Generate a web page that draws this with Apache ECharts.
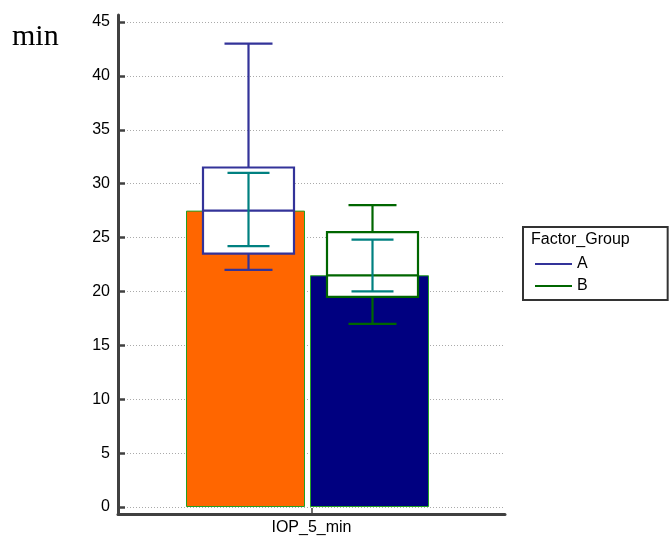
<!DOCTYPE html>
<html><head><meta charset="utf-8">
<script src="https://cdn.jsdelivr.net/npm/echarts@6/dist/echarts.min.js"></script>
<style>html,body{margin:0;padding:0;background:#fff}#c{width:669px;height:538px}</style>
</head><body><div id="c"></div>
<script>
// ---- data ----
const categories = ['IOP_5_min'];
const groups = ['A', 'B'];
const barMeans = [27.5, 21.5];
const boxLow = [22, 17];
const boxQ1 = [23.5, 19.5];
const boxMedian = [27.5, 21.5];
const boxQ3 = [31.5, 25.5];
const boxHigh = [43, 28];
const errLow = [24.2, 20];
const errHigh = [31, 24.8];
const yTicks = [0, 5, 10, 15, 20, 25, 30, 35, 40, 45];
const yUnit = 'min';
const legendTitle = 'Factor_Group';

// ---- styles ----
const barColors = ['#FF6600', '#000080'];
const boxColors = ['#333399', '#006600'];
const errColor = '#008080';
const BAR_W = 119, GAP = 5, SHIFT = -1;
const FONT = 'Liberation Sans, Arial, sans-serif';

const chart = echarts.init(document.getElementById('c'), null, {renderer: 'canvas'});

function boxRender(gi) {
  return function (params, api) {
    const off = (gi - 0.5) * (BAR_W + GAP) + SHIFT;
    const x0 = api.coord([api.value(0), 0])[0] + off;
    const y = k => api.coord([api.value(0), api.value(k)])[1];
    const hw = 45.5, cw = 24;
    const st = {stroke: boxColors[gi], lineWidth: 2.2, fill: null};
    return {
      type: 'group',
      children: [
        {type: 'line', shape: {x1: x0, y1: y(5), x2: x0, y2: y(4)}, style: st},
        {type: 'line', shape: {x1: x0 - cw, y1: y(5), x2: x0 + cw, y2: y(5)}, style: st},
        {type: 'line', shape: {x1: x0, y1: y(2), x2: x0, y2: y(1)}, style: st},
        {type: 'line', shape: {x1: x0 - cw, y1: y(1), x2: x0 + cw, y2: y(1)}, style: st},
        {type: 'rect', shape: {x: x0 - hw, y: y(4), width: 2 * hw, height: y(2) - y(4)},
          style: {stroke: boxColors[gi], lineWidth: 2.2, fill: '#fff'}},
        {type: 'line', shape: {x1: x0 - hw, y1: y(3), x2: x0 + hw, y2: y(3)}, style: st}
      ]
    };
  };
}
function errRender(gi) {
  return function (params, api) {
    const off = (gi - 0.5) * (BAR_W + GAP) + SHIFT;
    const x0 = api.coord([api.value(0), 0])[0] + off;
    const y = k => api.coord([api.value(0), api.value(k)])[1];
    const cw = 21;
    const st = {stroke: errColor, lineWidth: 2.2, fill: null};
    return {
      type: 'group',
      children: [
        {type: 'line', shape: {x1: x0, y1: y(2), x2: x0, y2: y(1)}, style: st},
        {type: 'line', shape: {x1: x0 - cw, y1: y(2), x2: x0 + cw, y2: y(2)}, style: st},
        {type: 'line', shape: {x1: x0 - cw, y1: y(1), x2: x0 + cw, y2: y(1)}, style: st}
      ]
    };
  };
}

const series = [];
groups.forEach((g, i) => {
  series.push({
    name: g + '_mean', type: 'bar', xAxisIndex: 2, yAxisIndex: 2,
    data: [barMeans[i]], barWidth: BAR_W, barGap: (GAP / BAR_W * 100).toFixed(1) + '%',
    itemStyle: {color: barColors[i], borderColor: '#22A022', borderWidth: 1},
    emphasis: {disabled: true}, z: 2, silent: true
  });
});
groups.forEach((g, i) => {
  series.push({
    name: g, type: 'custom', xAxisIndex: 0, yAxisIndex: 0,
    data: [[0, boxLow[i], boxQ1[i], boxMedian[i], boxQ3[i], boxHigh[i]]],
    encode: {x: 0, y: [1, 2, 3, 4, 5]},
    renderItem: boxRender(i), itemStyle: {color: boxColors[i]}, z: 3, silent: true
  });
});
groups.forEach((g, i) => {
  series.push({
    name: g + '_err', type: 'custom', xAxisIndex: 0, yAxisIndex: 0,
    data: [[0, errLow[i], errHigh[i]]],
    encode: {x: 0, y: [1, 2]},
    renderItem: errRender(i), z: 4, silent: true
  });
});

chart.setOption({
  animation: false,
  backgroundColor: '#fff',
  title: [
    {text: yUnit, left: 12, top: 22, padding: 0,
      textStyle: {fontFamily: 'Liberation Serif, Times New Roman, serif', fontSize: 30, fontWeight: 'normal', color: '#000'}},
    {text: legendTitle, left: 531, top: 232, padding: 0,
      textStyle: {fontFamily: FONT, fontSize: 16, fontWeight: 'normal', color: '#000'}}
  ],
  legend: {
    data: groups.map((g, i) => ({name: g, itemStyle: {color: boxColors[i]}})),
    orient: 'vertical', left: 523, top: 227,
    padding: [29, 80, 6, 12], borderColor: '#333', borderWidth: 2,
    icon: 'rect', itemWidth: 37, itemHeight: 2, itemGap: 6,
    textStyle: {fontFamily: FONT, fontSize: 16, color: '#000'},
    selectedMode: false
  },
  grid: [
    {left: 118, right: 164, top: 22, bottom: 31},
    {left: 118, right: 164, top: 15, bottom: 24},
    {left: 114, right: 168, top: 22, bottom: 31}
  ],
  xAxis: [
    {type: 'category', gridIndex: 0, data: categories, show: false},
    {type: 'category', gridIndex: 1, data: categories,
      axisLine: {show: true, lineStyle: {color: '#404040', width: 3}},
      axisTick: {show: true, inside: true, length: 6, alignWithLabel: true, lineStyle: {color: '#404040', width: 1.5}},
      axisLabel: {margin: 6, fontFamily: FONT, fontSize: 16, color: '#000'},
      splitLine: {show: false}},
    {type: 'category', gridIndex: 2, data: categories, show: false}
  ],
  yAxis: [
    {type: 'value', gridIndex: 0, min: yTicks[0], max: yTicks[yTicks.length - 1], interval: yTicks[1] - yTicks[0],
      axisLine: {show: false},
      axisTick: {show: true, inside: true, length: 7, lineStyle: {color: '#404040', width: 2.5}},
      axisLabel: {margin: 8, fontFamily: FONT, fontSize: 16, color: '#000'},
      splitLine: {show: true, lineStyle: {color: '#aaa', type: [1, 2], width: 1}}},
    {type: 'value', gridIndex: 1, min: 0, max: 1,
      axisLine: {show: true, lineStyle: {color: '#404040', width: 3}},
      axisTick: {show: false}, axisLabel: {show: false}, splitLine: {show: false}},
    {type: 'value', gridIndex: 2, min: yTicks[0], max: yTicks[yTicks.length - 1], show: false}
  ],
  series: series
});
</script>
</body></html>
